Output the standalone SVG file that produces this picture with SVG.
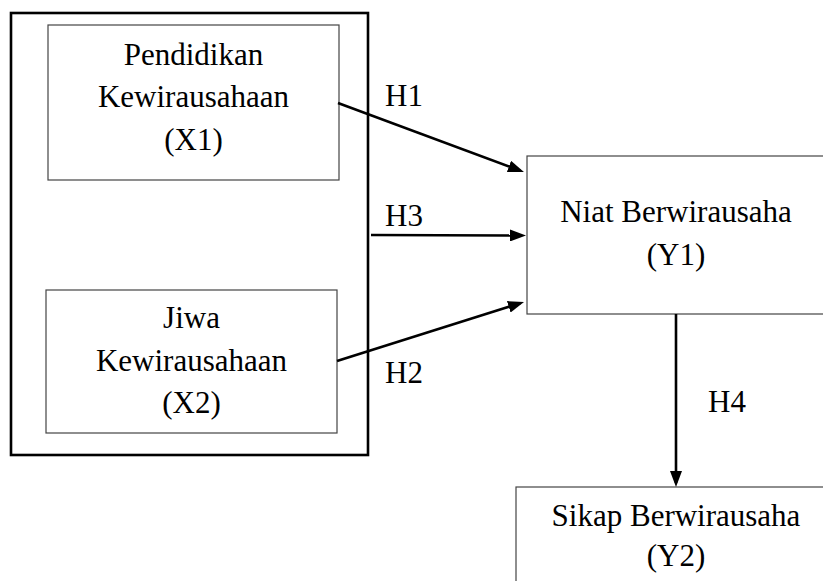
<svg xmlns="http://www.w3.org/2000/svg" width="823" height="581" viewBox="0 0 823 581">
<style>
.box{fill:#fff;stroke:#444;stroke-width:1.2}
.outer{fill:none;stroke:#000;stroke-width:2.6}
.arr{stroke:#000;stroke-width:2.6;fill:none;marker-end:url(#ah)}
.t{font-family:"Liberation Serif","Times New Roman",Times,"DejaVu Serif",serif;font-size:31px;fill:#000;text-anchor:middle}
.l{text-anchor:start}
</style>
<defs>
<marker id="ah" markerUnits="userSpaceOnUse" viewBox="0 0 16 12" refX="12" refY="6" markerWidth="16" markerHeight="12" orient="auto">
<path d="M0,0 L16,6 L0,12 Z" fill="#000"/>
</marker>
</defs>
<rect width="823" height="581" fill="#fff"/>
<g id="group-x">
<rect class="outer" x="11" y="13" width="357" height="442"/>
</g>
<g id="x1">
<rect class="box" x="48" y="25" width="291" height="155"/>
<text class="t" x="193.5" y="65">Pendidikan</text>
<text class="t" x="193.5" y="107">Kewirausahaan</text>
<text class="t" x="193.5" y="150">(X1)</text>
</g>
<g id="x2">
<rect class="box" x="46" y="290" width="291" height="143"/>
<text class="t" x="191.5" y="328">Jiwa</text>
<text class="t" x="191.5" y="371">Kewirausahaan</text>
<text class="t" x="191.5" y="413">(X2)</text>
</g>
<g id="y1">
<rect class="box" x="527" y="156" width="300" height="158"/>
<text class="t" x="676" y="222">Niat Berwirausaha</text>
<text class="t" x="676" y="265">(Y1)</text>
</g>
<g id="y2">
<rect class="box" x="516" y="487" width="320" height="120"/>
<text class="t" x="676" y="526">Sikap Berwirausaha</text>
<text class="t" x="676" y="566">(Y2)</text>
</g>
<g id="connectors">
<line class="arr" x1="338" y1="103" x2="520.2" y2="170.6"/>
<line class="arr" x1="371" y1="235" x2="522" y2="235.5"/>
<line class="arr" x1="337" y1="361" x2="520.2" y2="303.2"/>
<line class="arr" x1="676" y1="314" x2="676" y2="483"/>
<text class="t l" x="385" y="106">H1</text>
<text class="t l" x="385" y="226">H3</text>
<text class="t l" x="385" y="383">H2</text>
<text class="t l" x="708" y="412">H4</text>
</g>
</svg>
